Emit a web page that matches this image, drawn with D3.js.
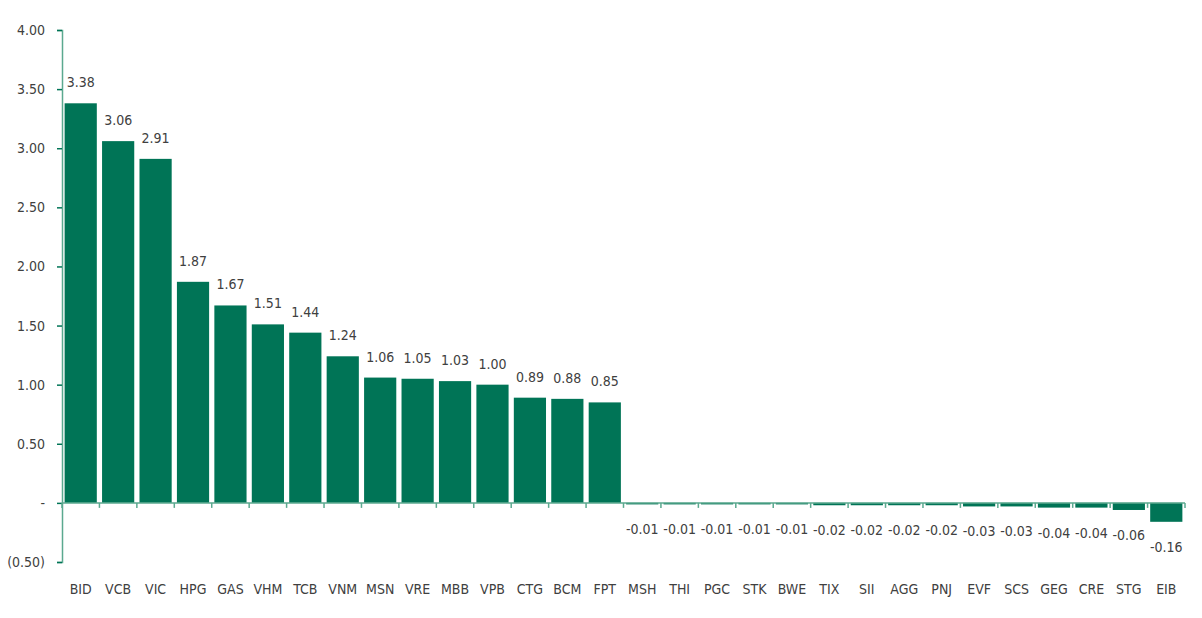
<!DOCTYPE html>
<html>
<head>
<meta charset="utf-8">
<script src="https://cdn.jsdelivr.net/npm/d3@7"></script>
<style>
  body { margin: 0; background: #fff; }
  text { font-family: "Liberation Sans Narrow", "DejaVu Sans Condensed", sans-serif; fill: #404040; }
</style>
</head>
<body>
<svg id="chart" width="1202" height="618"></svg>
<script>
// tickers and values
const tickers = ["BID","VCB","VIC","HPG","GAS","VHM","TCB","VNM","MSN","VRE","MBB","VPB","CTG","BCM","FPT",
                 "MSH","THI","PGC","STK","BWE","TIX","SII","AGG","PNJ","EVF","SCS","GEG","CRE","STG","EIB"];
const values = [3.38,3.06,2.91,1.87,1.67,1.51,1.44,1.24,1.06,1.05,1.03,1.00,0.89,0.88,0.85,
                -0.01,-0.01,-0.01,-0.01,-0.01,-0.02,-0.02,-0.02,-0.02,-0.03,-0.03,-0.04,-0.04,-0.06,-0.16];
const yTicks = [-0.5, 0, 0.5, 1, 1.5, 2, 2.5, 3, 3.5, 4];

const data = tickers.map((t, i) => ({ t: t, v: values[i] }));

const svg = d3.select("#chart");
const plotL = 62, plotR = 1185, plotT = 30, plotB = 562;
const green = "#007456", axisCol = "#5ba98f";
const fontFam = "'Liberation Sans Narrow', 'DejaVu Sans Condensed', sans-serif";
const fs = "14px";

const x = d3.scaleBand().domain(tickers).range([plotL, plotR]).paddingInner(0.14).paddingOuter(0.07);
const y = d3.scaleLinear().domain([-0.5, 4]).range([plotB, plotT]);

// bars
svg.selectAll("rect.bar")
  .data(data)
  .enter().append("rect")
  .attr("class", "bar")
  .attr("x", d => x(d.t))
  .attr("width", x.bandwidth())
  .attr("y", d => y(Math.max(0, d.v)))
  .attr("height", d => Math.max(1.5, Math.abs(y(d.v) - y(0))))
  .attr("fill", green);

// value labels
svg.selectAll("text.val")
  .data(data)
  .enter().append("text")
  .attr("class", "val")
  .attr("x", d => x(d.t) + x.bandwidth() / 2)
  .attr("y", d => d.v >= 0 ? y(d.v) - 16 : y(d.v) + 30)
  .attr("text-anchor", "middle")
  .style("font-size", fs)
  .text(d => d.v.toFixed(2));

// y axis
const fmt = v => v === 0 ? "-" : (v < 0 ? "(" + d3.format(".2f")(-v) + ")" : d3.format(".2f")(v));
const yAxis = svg.append("g")
  .attr("transform", `translate(${plotL},0)`)
  .call(d3.axisLeft(y).tickValues(yTicks).tickFormat(fmt).tickSize(5).tickPadding(12));
yAxis.select(".domain").attr("stroke", axisCol).attr("stroke-width", 1.5);
yAxis.selectAll(".tick line").attr("stroke", green).attr("stroke-width", 1.5);
yAxis.selectAll(".tick text").style("font-size", fs).attr("fill", "#404040")
  .style("font-family", fontFam);

// zero line with category ticks
svg.append("line")
  .attr("x1", plotL).attr("x2", plotR)
  .attr("y1", y(0)).attr("y2", y(0))
  .attr("stroke", axisCol).attr("stroke-width", 1.5);

const bounds = d3.range(tickers.length + 1).map(i => plotL + i * (plotR - plotL) / tickers.length);
svg.selectAll("line.ctick")
  .data(bounds)
  .enter().append("line")
  .attr("class", "ctick")
  .attr("x1", d => d).attr("x2", d => d)
  .attr("y1", y(0)).attr("y2", y(0) + 5)
  .attr("stroke", axisCol).attr("stroke-width", 1.5);

// category labels
svg.selectAll("text.cat")
  .data(tickers)
  .enter().append("text")
  .attr("class", "cat")
  .attr("x", d => x(d) + x.bandwidth() / 2)
  .attr("y", 594)
  .attr("text-anchor", "middle")
  .style("font-size", fs)
  .text(d => d);
</script>
</body>
</html>
